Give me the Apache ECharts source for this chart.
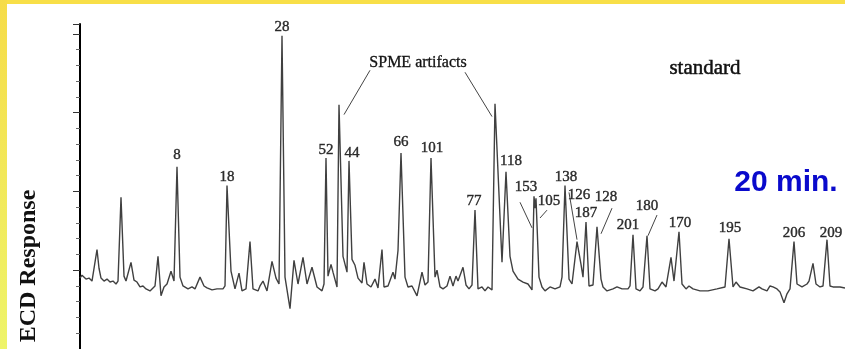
<!DOCTYPE html>
<html>
<head>
<meta charset="utf-8">
<script src="https://cdn.jsdelivr.net/npm/echarts@6/dist/echarts.min.js"></script>
<style>
  html, body { margin: 0; padding: 0; background: #fff; }
  #chart { width: 845px; height: 349px; }
</style>
</head>
<body>
<div id="chart"></div>
<script>
  // chromatogram trace (arbitrary time / response units)
  const retentionTime = [0, 2, 4, 6, 9, 12, 14, 17, 19, 21, 24, 27, 30, 33, 36, 38, 41, 44, 46, 48,
    51, 54, 57, 60, 63, 66, 70, 72, 75, 78, 81, 84, 87, 91, 94, 97, 100, 103, 108, 112,
    115, 120, 124, 127, 132, 137, 143, 145, 147, 151, 155, 159, 162, 166, 170, 173, 178, 180, 183, 187,
    192, 196, 199, 202, 205, 210, 214, 218, 223, 227, 232, 237, 242, 244, 246, 248, 251, 253, 255, 257,
    259, 263, 267, 269, 272, 275, 278, 282, 284, 287, 291, 295, 298, 302, 304, 308, 313, 315, 318, 321,
    325, 328, 332, 337, 342, 345, 348, 351, 355, 357, 360, 363, 367, 370, 373, 376, 378, 383, 386, 389,
    392, 395, 398, 402, 405, 408, 412, 415, 422, 426, 430, 433, 438, 443, 448, 452, 454, 455, 456, 459,
    462, 465, 470, 475, 480, 482, 485, 489, 492, 497, 501, 503, 506, 509, 513, 517, 521, 523, 527, 533,
    537, 542, 548, 550, 553, 556, 560, 563, 567, 570, 575, 578, 582, 586, 591, 594, 599, 602, 606, 609,
    613, 620, 628, 637, 645, 649, 653, 656, 660, 667, 673, 679, 682, 687, 690, 693, 697, 700, 704, 707,
    710, 714, 717, 722, 727, 729, 733, 736, 740, 743, 747, 750, 753, 760, 765]
  const response = [-8, -5, -7, -9, -8, -11, -10, 21, 2, -8, -11, -9, -12, -11, -14, -11, 74, -6, -11, -9,
    8, -10, -12, -17, -16, -19, -21, -19, -16, 14, -26, -17, -14, -1, -11, 105, -7, -16, -19, -17,
    -19, -7, -16, -18, -20, -19, -19, -16, 86, -1, -19, -3, -21, -19, 29, -19, -21, -16, -11, -21,
    9, -8, -14, 238, -7, -39, 10, -14, 13, -14, 3, -17, -21, -14, 114, -6, 6, -2, 0, -17,
    168, 14, -2, 111, 11, 5, -8, -13, 8, -14, -17, -9, -18, 21, -17, -16, -2, -9, 20, 119,
    -7, -17, -16, -26, -2, -15, -12, 114, -7, 0, -17, -19, -16, -6, -16, -6, -11, 3, -15, -19,
    -15, 61, -19, -17, -21, -17, -20, 169, 8, 100, 14, -1, -9, -12, -14, -20, 75, 63, 73, -7,
    -17, -21, -17, -19, -17, -7, 86, -9, -14, 29, 6, -7, 49, -16, -15, 44, -9, -17, -21, -19,
    -17, -19, -19, -16, 36, -19, -21, -17, 35, -19, -21, -19, -12, -17, 13, -11, 39, -14, -19, -16,
    -19, -21, -21, -19, -17, 32, -17, -12, -17, -19, -21, -17, -19, -21, -16, -17, -19, -22, -33, -24,
    -19, 29, -14, -17, -14, -11, 7, -14, -17, -16, 31, -16, -17, -17, -18]

  // congener labels and where their text sits
  const peakNames = ['8', '18', '28', '52', '44', '66', '101', '77', '118', '153', '105',
    '138', '126', '187', '128', '201', '180', '170', '195', '206', '209']
  const labelTime = [97, 147, 202, 246, 272, 321, 352, 394, 431, 446, 469,
    486, 499, 506, 526, 548, 567, 600, 650, 714, 751]
  const labelLevel = [117, 95, 247, 122, 119, 130, 124, 70, 111, 84, 70,
    95, 76, 58, 74, 46, 65, 48, 43, 38, 38]

  // leader lines: [time1, level1, time2, level2]
  const leaderLines = [
    [290, 203, 264, 158], // SPME artifacts, left
    [385, 201, 412, 156], // SPME artifacts, right
    [440, 69, 452, 43],   // 153
    [467, 61, 460, 53],   // 105
    [489, 79, 497, 31],   // 126
    [532, 63, 521, 37],   // 128
    [577, 56, 568, 35]    // 180
  ]

  const chart = echarts.init(document.getElementById('chart'))

  const trace = retentionTime.map((t, i) => [t, response[i]])
  const labels = peakNames.map((n, i) => ({ name: n, value: [labelTime[i], labelLevel[i]] }))

  const option = {
    animation: false,
    backgroundColor: '#fff',
    grid: { left: 80, right: 0, top: 24, bottom: -7.7 },
    xAxis: { type: 'value', min: 0, max: 765, show: false },
    yAxis: {
      type: 'value',
      min: -80,
      max: 250,
      interval: 80,
      axisLine: { show: true, lineStyle: { color: '#000', width: 2 } },
      axisTick: { show: true, length: 7, lineStyle: { color: '#333', width: 1 } },
      minorTick: { show: true, splitNumber: 5, length: 4, lineStyle: { color: '#666', width: 1 } },
      axisLabel: { show: false },
      splitLine: { show: false }
    },
    series: [
      {
        type: 'line',
        data: trace,
        showSymbol: false,
        lineStyle: { color: '#404040', width: 1.4 }
      },
      {
        type: 'lines',
        coordinateSystem: 'cartesian2d',
        data: leaderLines.map(l => ({ coords: [[l[0], l[1]], [l[2], l[3]]] })),
        lineStyle: { color: '#444', width: 1, opacity: 1 }
      },
      {
        type: 'scatter',
        data: labels,
        symbolSize: 0,
        label: {
          show: true,
          position: 'inside',
          formatter: '{b}',
          fontFamily: 'Liberation Serif',
          fontSize: 15,
          color: '#000',
          textBorderColor: '#000',
          textBorderWidth: 0.4
        }
      }
    ],
    graphic: [
      { type: 'rect', shape: { x: 0, y: 0, width: 845, height: 4 }, style: { fill: '#f8df48' } },
      {
        type: 'rect',
        shape: { x: 0, y: 0, width: 7, height: 349 },
        style: {
          fill: new echarts.graphic.LinearGradient(0, 0, 0, 1, [
            { offset: 0, color: '#f6dc48' },
            { offset: 1, color: '#eef46a' }
          ])
        }
      },
      {
        type: 'text', x: 29, y: 266, rotation: Math.PI / 2,
        style: { text: 'ECD Response', font: 'bold 24px "Liberation Serif"', fill: '#111', textAlign: 'center', textVerticalAlign: 'middle' }
      },
      {
        type: 'text', x: 705, y: 68,
        style: { text: 'standard', font: '21px "Liberation Serif"', fill: '#111', stroke: '#111', lineWidth: 0.5, textAlign: 'center', textVerticalAlign: 'middle' }
      },
      {
        type: 'text', x: 418, y: 63,
        style: { text: 'SPME artifacts', font: '16px "Liberation Serif"', fill: '#111', stroke: '#111', lineWidth: 0.3, textAlign: 'center', textVerticalAlign: 'middle' }
      },
      {
        type: 'text', x: 786, y: 183,
        style: { text: '20 min.', font: 'bold 30px "Liberation Sans"', fill: '#0a0acc', textAlign: 'center', textVerticalAlign: 'middle' }
      }
    ]
  }

  chart.setOption(option)
</script>
</body>
</html>
